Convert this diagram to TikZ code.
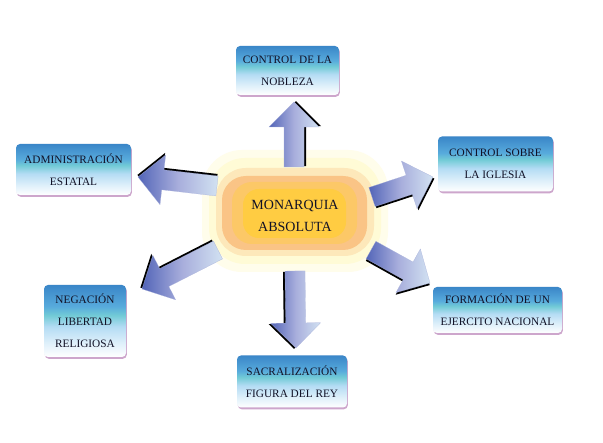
\documentclass[tikz,border=0pt]{standalone}
\usepackage{fontspec}
\setmainfont{Liberation Serif}
\usetikzlibrary{calc,shadows}

\definecolor{boxtop}{HTML}{3A86C8}
\definecolor{boxmid}{HTML}{58ABDC}
\definecolor{boxaqua}{HTML}{72CBD6}
\definecolor{boxlight}{HTML}{B4DCF4}
\definecolor{boxpink}{HTML}{CDA6CC}
\definecolor{arrdark}{HTML}{5365B8}
\definecolor{arrmid}{HTML}{A8AEDC}
\definecolor{arrlight}{HTML}{D2E2F2}
\definecolor{glowout}{HTML}{FFFBD6}
\definecolor{glowring}{HTML}{FAC486}
\definecolor{glowcore}{HTML}{FFCC42}
\definecolor{inkblue}{HTML}{111126}

\pgfdeclareverticalshading{boxshade}{100bp}{color(0bp)=(white); color(25bp)=(white); color(35bp)=(white!55!boxlight); color(46bp)=(boxlight); color(54bp)=(boxaqua); color(60bp)=(boxmid); color(75bp)=(boxtop); color(100bp)=(boxtop)}

\tikzset{
  topic/.style={
    rectangle,
    rounded corners=4pt,
    shading=boxshade,
    inner sep=0pt,
    align=center,
    text=inkblue,
    font=\fontsize{11.3}{22}\selectfont,
    drop shadow={fill=boxpink, shadow xshift=0.8pt, shadow yshift=-1.8pt, opacity=1}
  },
  hubtext/.style={
    align=center,
    text=inkblue,
    font=\fontsize{14}{22}\selectfont
  },
  blockarrow/.pic={
    \fill[black, shift={(0.8,2)}] (0,-10) -- ({#1-25},-10) -- ({#1-25},-25) -- (#1,0)
      -- ({#1-25},25) -- ({#1-25},10) -- (0,10) -- cycle;
    \shade[left color=arrdark, right color=arrlight, middle color=arrmid, draw=arrdark!50, line width=0.2pt]
      (0,-10) -- ({#1-25},-10) -- ({#1-25},-25) -- (#1,0)
      -- ({#1-25},25) -- ({#1-25},10) -- (0,10) -- cycle;
  }
}

\newcommand{\bigarrow}[2]{%
  \path let \p1=(#1), \p2=(#2), \n1={atan2(\y2-\y1,\x2-\x1)}, \n2={veclen(\x2-\x1,\y2-\y1)} in
    (#1) pic[rotate=\n1]{blockarrow=\n2};
}

\begin{document}
\begin{tikzpicture}[x=1pt,y=-1pt]
\useasboundingbox[fill=white] (0,0) rectangle (603,443);

% glow behind the centre
\fill[rounded corners=40pt, glowout!50!white] (202,150) rectangle (388,272);
\fill[rounded corners=36pt, glowout] (209,158) rectangle (381,264);
\fill[rounded corners=30pt, glowring!35!glowout] (216,168) rectangle (374,256);
\fill[rounded corners=24pt, glowring] (222,176) rectangle (367,250);
\fill[rounded corners=20pt, glowcore!45!glowring] (232,182) rectangle (357,244);
\fill[rounded corners=16pt, glowcore] (243,189) rectangle (346,238);
\node[hubtext] (hub) at (295,216) {MONARQUIA\\ABSOLUTA};

% boxes
\node[topic, minimum width=103, minimum height=49] (nobleza) at (287.5,70.5) {CONTROL DE LA\\NOBLEZA};
\node[topic, minimum width=115, minimum height=51] (admin) at (73.5,169.5) {ADMINISTRACIÓN\\ESTATAL};
\node[topic, minimum width=82, minimum height=72] (negacion) at (85,321) {NEGACIÓN\\LIBERTAD\\RELIGIOSA};
\node[topic, minimum width=115, minimum height=55] (iglesia) at (495.5,164) {CONTROL SOBRE\\LA IGLESIA};
\node[topic, minimum width=129, minimum height=46] (ejercito) at (497.5,310) {FORMACIÓN DE UN\\EJERCITO NACIONAL};
\node[topic, minimum width=110, minimum height=52] (rey) at (292,381.5) {SACRALIZACIÓN\\FIGURA DEL REY};

% arrow ends
\coordinate (upS) at (294,167);
\coordinate (upE) at (294,102);
\coordinate (downS) at (295,271);
\coordinate (downE) at (296,348);
\coordinate (admS) at (217,186);
\coordinate (admE) at (138,177);
\coordinate (negS) at (218,250);
\coordinate (negE) at (142,289);
\coordinate (iglS) at (372,197);
\coordinate (iglE) at (433,177);
\coordinate (ejeS) at (371,250);
\coordinate (ejeE) at (430,283);

\bigarrow{upS}{upE}
\bigarrow{downS}{downE}
\bigarrow{admS}{admE}
\bigarrow{negS}{negE}
\bigarrow{iglS}{iglE}
\bigarrow{ejeS}{ejeE}
\end{tikzpicture}
\end{document}
